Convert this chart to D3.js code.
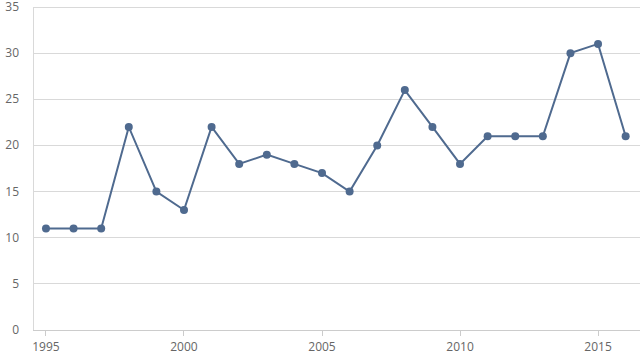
<!DOCTYPE html>
<html><head><meta charset="utf-8">
<script src="https://cdn.jsdelivr.net/npm/d3@7"></script>
<style>body{margin:0;background:#fff;}svg{display:block;}text{font-family:"Open Sans",sans-serif;}</style>
</head><body>
<svg id="c" width="640" height="355"></svg>
<script>
const years = [1995,1996,1997,1998,1999,2000,2001,2002,2003,2004,2005,2006,2007,2008,2009,2010,2011,2012,2013,2014,2015,2016];
const values = [11,11,11,22,15,13,22,18,19,18,17,15,20,26,22,18,21,21,21,30,31,21];
const yTicks = [0,5,10,15,20,25,30,35];
const xTicks = [1995,2000,2005,2010,2015];

const svg = d3.select("#c");
const L = 33, T = 7, B = 330, R = 640;
const x = d3.scaleLinear().domain([1994.53, 2016.52]).range([L, R]);
const y = d3.scaleLinear().domain([0, 35]).range([B, T]);

const g = svg.append("g");
g.selectAll("line.grid").data(yTicks.filter(d => d > 0)).enter().append("line")
  .attr("x1", L).attr("x2", R).attr("y1", d => y(d)).attr("y2", d => y(d))
  .attr("stroke", "#d9d9d9").attr("stroke-width", 1).attr("shape-rendering", "crispEdges");

g.append("line").attr("x1", L).attr("x2", L).attr("y1", T).attr("y2", B)
  .attr("stroke", "#d9d9d9").attr("shape-rendering", "crispEdges");
g.append("line").attr("x1", L).attr("x2", R).attr("y1", B).attr("y2", B)
  .attr("stroke", "#cccccc").attr("shape-rendering", "crispEdges");

g.selectAll("line.xt").data(xTicks).enter().append("line")
  .attr("x1", d => x(d)).attr("x2", d => x(d)).attr("y1", B).attr("y2", B + 6)
  .attr("stroke", "#cccccc").attr("shape-rendering", "crispEdges");

g.selectAll("text.yl").data(yTicks).enter().append("text")
  .attr("x", 19).attr("y", d => y(d) + 4).attr("text-anchor", "end")
  .attr("fill", "#666").attr("font-size", 12).text(d => d);

g.selectAll("text.xl").data(xTicks).enter().append("text")
  .attr("x", d => x(d)).attr("y", 351).attr("text-anchor", "middle")
  .attr("fill", "#666").attr("font-size", 12).text(d => d);

const data = years.map((yr, i) => ({yr, v: values[i]}));
const line = d3.line().x(d => x(d.yr)).y(d => y(d.v));
g.append("path").datum(data).attr("d", line).attr("fill", "none")
  .attr("stroke", "#4f6a8f").attr("stroke-width", 2);
g.selectAll("circle").data(data).enter().append("circle")
  .attr("cx", d => x(d.yr)).attr("cy", d => y(d.v)).attr("r", 4)
  .attr("fill", "#4f6a8f");
</script>
</body></html>
